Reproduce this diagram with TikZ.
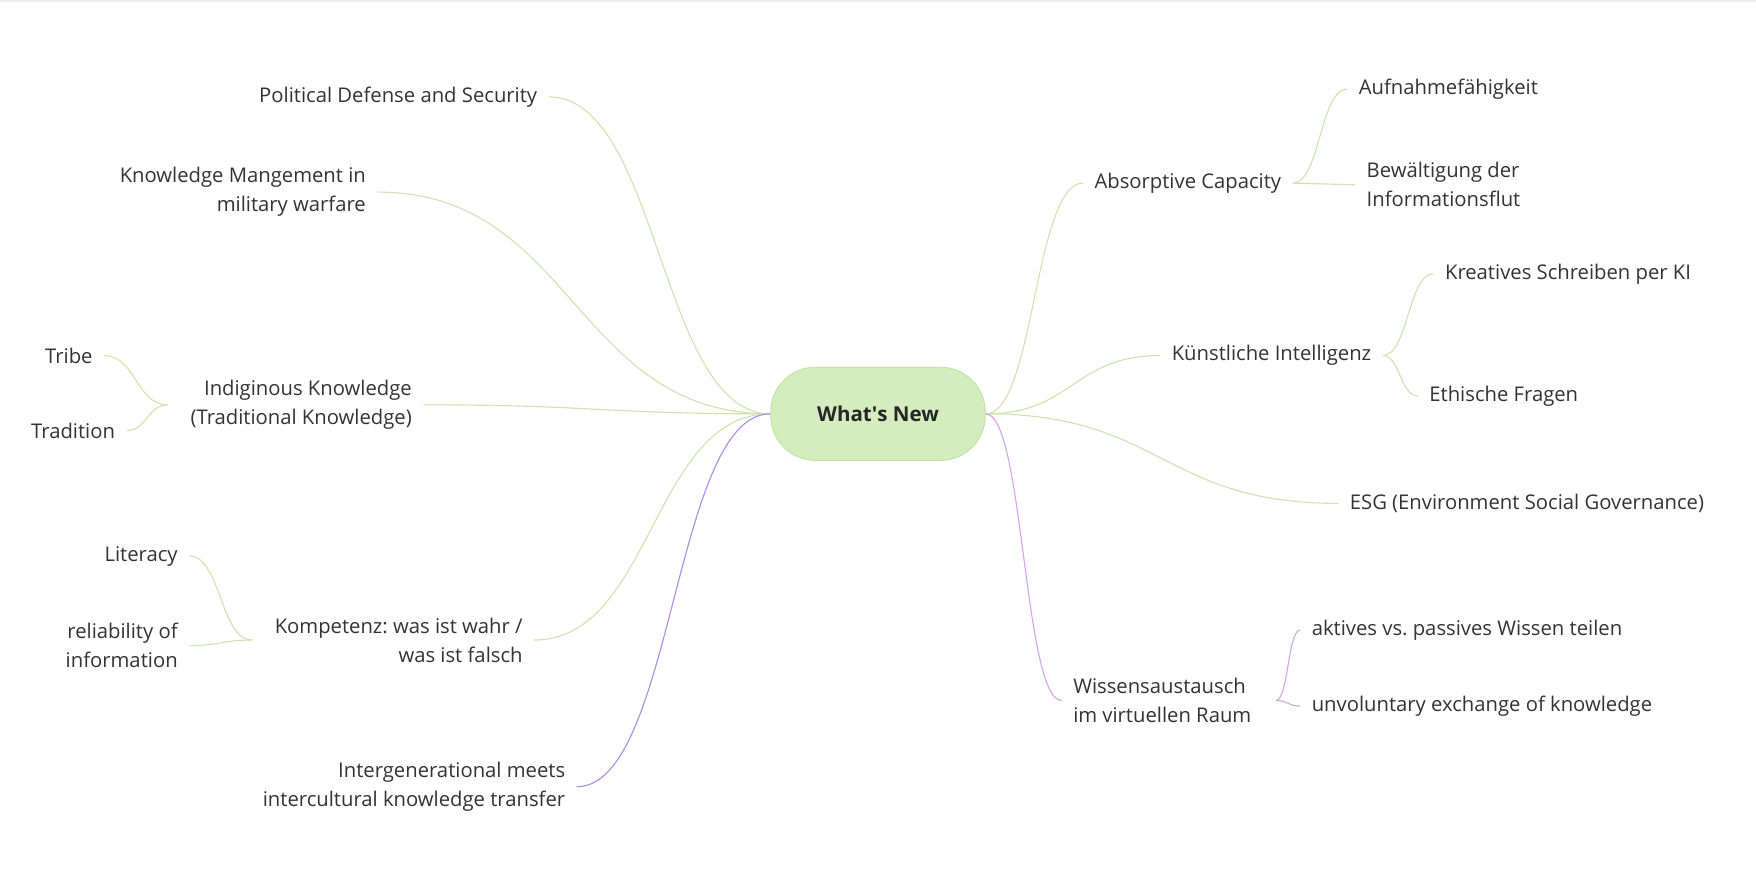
\documentclass[tikz,border=0pt]{standalone}
\usepackage{fontspec}
\setmainfont{Open Sans}
\usetikzlibrary{calc}
\frenchspacing
\definecolor{rootfill}{RGB}{211,237,190}
\definecolor{rootline}{RGB}{190,224,160}
\definecolor{greenline}{RGB}{206,228,176}
\definecolor{violetline}{RGB}{170,140,238}
\definecolor{orchidline}{RGB}{214,164,238}
\definecolor{textgray}{RGB}{51,51,51}
\tikzset{
  topic/.style={inner xsep=6pt,inner ysep=0pt,text=textgray,font=\fontsize{10.85}{15.6}\selectfont},
  lefttopic/.style={topic,anchor=east,align=right},
  righttopic/.style={topic,anchor=west,align=left},
  curved/.style={to path={let \p1=(\tikztostart), \p2=(\tikztotarget), \n1={0.5*(\x2-\x1)} in
    .. controls +(\n1,0) and +(-\n1,0) .. (\tikztotarget)}},
  branch/.style={draw=greenline,line width=0.6pt,curved},
  violetbranch/.style={draw=violetline,line width=0.6pt,curved},
  orchidbranch/.style={draw=orchidline,line width=0.6pt,curved}
}

\begin{document}
\begin{tikzpicture}[x=0.6pt,y=-0.6pt]
            \useasboundingbox (0,0) rectangle (1568,794);
            \fill[black!7] (0,0) rectangle (1568,1.5);
            % central topic
            \node[draw=rootline,fill=rootfill,rounded corners=24pt,minimum width=115pt,minimum height=50pt,
                  font=\fontsize{11}{13}\selectfont\bfseries,text=black!85] (root) at (784,369.5) {What\textquotesingle s New};
            % right side
            \node[righttopic] (abs) at (967,163.5) {Absorptive Capacity};
            \node[righttopic] (auf) at (1203,79.5) {Aufnahmefähigkeit};
            \node[righttopic] (bew) at (1210,165) {Bewältigung der\\Informationsflut};
            \node[righttopic] (ki) at (1036,317.5) {Künstliche Intelligenz};
            \node[righttopic] (kre) at (1280,244.5) {Kreatives Schreiben per KI};
            \node[righttopic] (eth) at (1266,353.5) {Ethische Fragen};
            \node[righttopic] (esg) at (1195,449.5) {ESG (Environment Social Governance)};
            \node[righttopic] (wis) at (948,625.5) {Wissensaustausch\\im virtuellen Raum};
            \node[righttopic] (akt) at (1161,562.5) {aktives vs. passives Wissen teilen};
            \node[righttopic] (unv) at (1161,630.5) {unvoluntary exchange of knowledge};
            % left side
            \node[lefttopic] (pol) at (490,86.5) {Political Defense and Security};
            \node[lefttopic] (kmw) at (337,171.5) {Knowledge Mangement in\\military warfare};
            \node[lefttopic] (ind) at (378,361.5) {Indiginous Knowledge\\(Traditional Knowledge)};
            \node[lefttopic] (tri) at (93,317.5) {Tribe};
            \node[lefttopic] (tra) at (113,384.5) {Tradition};
            \node[lefttopic] (kom) at (477,571.5) {Kompetenz: was ist wahr /\\was ist falsch};
            \node[lefttopic] (lit) at (169,496.5) {Literacy};
            \node[lefttopic] (rel) at (169,576.5) {reliability of\\information};
            \node[lefttopic] (int) at (515,702.5) {Intergenerational meets\\intercultural knowledge transfer};
            % branches
            \draw[branch] (root.east) to (abs.west);
            \draw[branch] (root.east) to (ki.west);
            \draw[branch] (root.east) to (esg.west);
            \draw[orchidbranch] (root.east) to (wis.west);
            \draw[branch] (abs.east) to (auf.west);
            \draw[branch] (abs.east) to (bew.west);
            \draw[branch] (ki.east) to (kre.west);
            \draw[branch] (ki.east) to (eth.west);
            \draw[orchidbranch] ([xshift=7pt]wis.east) to (akt.west);
            \draw[orchidbranch] ([xshift=7pt]wis.east) to (unv.west);
            \draw[branch] (root.west) to (pol.east);
            \draw[branch] (root.west) to (kmw.east);
            \draw[branch] (root.west) to (ind.east);
            \draw[branch] (root.west) to (kom.east);
            \draw[violetbranch] (root.west) to (int.east);
            \draw[branch] ([xshift=-6pt]ind.west) to (tri.east);
            \draw[branch] ([xshift=-6pt]ind.west) to (tra.east);
            \draw[branch] ([xshift=-6pt]kom.west) to (lit.east);
            \draw[branch] ([xshift=-6pt]kom.west) to (rel.east);
        \end{tikzpicture}
\end{document}
